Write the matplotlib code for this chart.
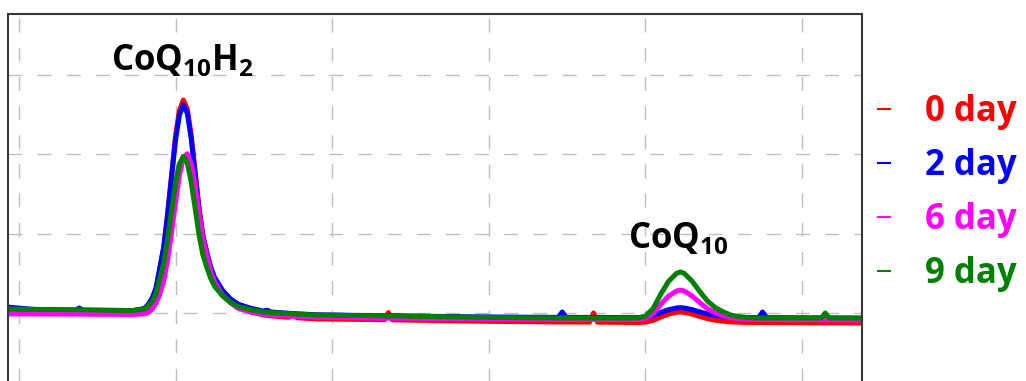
import matplotlib
matplotlib.use("Agg")
import matplotlib.pyplot as plt
from matplotlib.lines import Line2D

plt.rcParams['font.family'] = ['Open Sans', 'DejaVu Sans']
plt.rcParams['mathtext.fontset'] = 'custom'
plt.rcParams['mathtext.rm'] = 'Open Sans'
plt.rcParams['mathtext.bf'] = 'Open Sans:bold'

# retention time, min
t = [-0.15, 0.30, 0.72, 0.77, 0.82, 1.20, 1.45, 1.60, 1.65, 1.70,
     1.75, 1.80, 1.85, 1.90, 1.95, 2.00, 2.05, 2.10, 2.15, 2.20,
     2.25, 2.30, 2.35, 2.40, 2.45, 2.50, 2.55, 2.60, 2.70, 2.80,
     2.95, 3.12, 3.17, 3.22, 3.45, 3.50, 3.55, 3.80, 4.30, 4.67,
     4.72, 4.77, 5.30, 5.80, 6.30, 6.89, 6.94, 6.99, 7.29, 7.34,
     7.39, 7.70, 7.90, 8.00, 8.10, 8.20, 8.30, 8.40, 8.45, 8.50,
     8.60, 8.70, 8.80, 8.90, 9.00, 9.10, 9.20, 9.30, 9.45, 9.50,
     9.55, 9.90, 10.25, 10.30, 10.35, 10.80]

# detector signal, mAU
day0 = [-0.05, -0.05, -0.05, -0.05, -0.05, -0.02, 0.0, 0.27, 0.78, 1.58,
        2.90, 5.59, 8.27, 12.59, 17.44, 22.29, 25.52, 26.85, 25.74, 22.46,
        17.83, 13.20, 9.65, 7.46, 5.53, 4.16, 3.31, 2.48, 1.37, 0.66,
        0.16, -0.23, -0.30, -0.36, -0.54, -0.10, -0.60, -0.74, -0.80, -0.85,
        0.05, -0.86, -0.95, -1.02, -1.08, -1.13, -1.13, -1.13, -1.15, 0.0,
        -1.15, -1.18, -1.20, -1.15, -0.93, -0.51, -0.14, 0.09, 0.13, 0.09,
        -0.14, -0.44, -0.72, -0.91, -1.03, -1.12, -1.16, -1.19, -1.20, -1.20,
        -1.20, -1.22, -1.24, -1.24, -1.24, -1.26]

day2 = [0.75, 0.35, 0.32, 0.63, 0.32, 0.30, 0.30, 0.56, 1.07, 1.84,
        3.13, 5.72, 8.32, 12.48, 17.17, 21.84, 24.97, 26.25, 25.20, 22.04,
        17.60, 13.14, 9.74, 7.63, 5.79, 4.47, 3.67, 2.87, 1.80, 1.11,
        0.63, 0.25, 0.35, 0.13, -0.04, -0.08, -0.10, -0.22, -0.30, -0.35,
        -0.35, -0.35, -0.42, -0.48, -0.52, -0.55, 0.13, -0.55, -0.56, -0.56,
        -0.56, -0.57, -0.58, -0.53, -0.33, 0.07, 0.42, 0.63, 0.67, 0.63,
        0.42, 0.13, -0.13, -0.30, -0.42, -0.50, -0.55, -0.57, -0.58, 0.13,
        -0.58, -0.60, -0.62, -0.62, -0.62, -0.65]

day6 = [-0.10, -0.12, -0.14, -0.14, -0.15, -0.17, -0.19, -0.10, 0.04, 0.50,
        1.21, 2.44, 4.08, 6.74, 10.24, 13.93, 17.43, 19.48, 20.08, 18.84,
        16.15, 12.64, 9.33, 7.26, 5.19, 3.95, 3.01, 2.28, 1.33, 0.59,
        0.16, -0.15, -0.21, -0.26, -0.38, -0.40, -0.42, -0.52, -0.60, -0.65,
        -0.65, -0.65, -0.70, -0.74, -0.77, -0.80, -0.80, -0.80, -0.80, -0.80,
        -0.80, -0.82, -0.82, -0.67, -0.08, 1.10, 2.14, 2.77, 2.88, 2.77,
        2.14, 1.29, 0.51, -0.01, -0.34, -0.60, -0.71, -0.78, -0.82, -0.82,
        -0.82, -0.84, -0.86, -0.86, -0.86, -0.88]

day9 = [0.50, 0.45, 0.42, 0.41, 0.41, 0.35, 0.30, 0.50, 0.88, 1.45,
        2.42, 4.36, 6.31, 9.42, 12.94, 16.45, 18.79, 19.75, 18.96, 16.58,
        13.24, 9.89, 7.33, 5.74, 4.36, 3.36, 2.76, 2.16, 1.34, 0.82,
        0.45, 0.15, 0.10, 0.06, -0.08, -0.11, -0.13, -0.26, -0.32, -0.36,
        -0.37, -0.37, -0.45, -0.52, -0.58, -0.62, -0.62, -0.62, -0.63, -0.63,
        -0.63, -0.63, -0.63, -0.40, 0.53, 2.39, 4.01, 4.99, 5.17, 4.99,
        4.01, 2.68, 1.46, 0.65, 0.12, -0.28, -0.46, -0.57, -0.63, -0.63,
        -0.63, -0.63, -0.63, 0.0, -0.63, -0.65]

labels = ['0 day', '2 day', '6 day', '9 day']
colors = ['#ff0000', '#0000ff', '#ff00ff', '#008000']

fig = plt.figure(figsize=(10.26, 3.81), dpi=100)
# axes runs past the lower edge of the figure
ax = fig.add_axes([8 / 1026, -0.0499, 854 / 1026, 1.0132])

for y, c, lab in zip([day0, day2, day6, day9], colors, labels):
    ax.plot(t, y, color=c, lw=3.6, label=lab, solid_capstyle='round',
            solid_joinstyle='round')

ax.set_xlim(-0.14, 10.77)
ax.set_ylim(-10.97, 37.7)
ax.set_xticks([0, 2, 4, 6, 8, 10])
ax.set_yticks([-10, 0, 10, 20, 30])
ax.tick_params(length=0, labelleft=False, labelbottom=False)
ax.grid(True, color='#bfbfbf', lw=1.0, linestyle=(0, (10, 11)))
for s in ax.spines.values():
    s.set_color('#383838')
    s.set_linewidth(1.5)

ax.text(2.08, 30.6, r'CoQ$_\mathbf{10}$H$_\mathbf{2}$', ha='center',
        va='baseline', fontsize=25, fontweight='bold')
ax.text(8.42, 8.2, r'CoQ$_\mathbf{10}$', ha='center', va='baseline',
        fontsize=25, fontweight='bold')

handles = [Line2D([], [], color=c, lw=1.5) for c in colors]
leg = fig.legend(handles, labels, loc='center left',
                 bbox_to_anchor=(878 / 1026, 1 - 193 / 381),
                 frameon=False, handlelength=0.35, handletextpad=1.0,
                 borderpad=0, borderaxespad=0, labelspacing=0.52,
                 labelcolor='linecolor',
                 prop={'family': 'Open Sans', 'weight': 'bold', 'size': 25})

fig.savefig('out.png', dpi=100)
